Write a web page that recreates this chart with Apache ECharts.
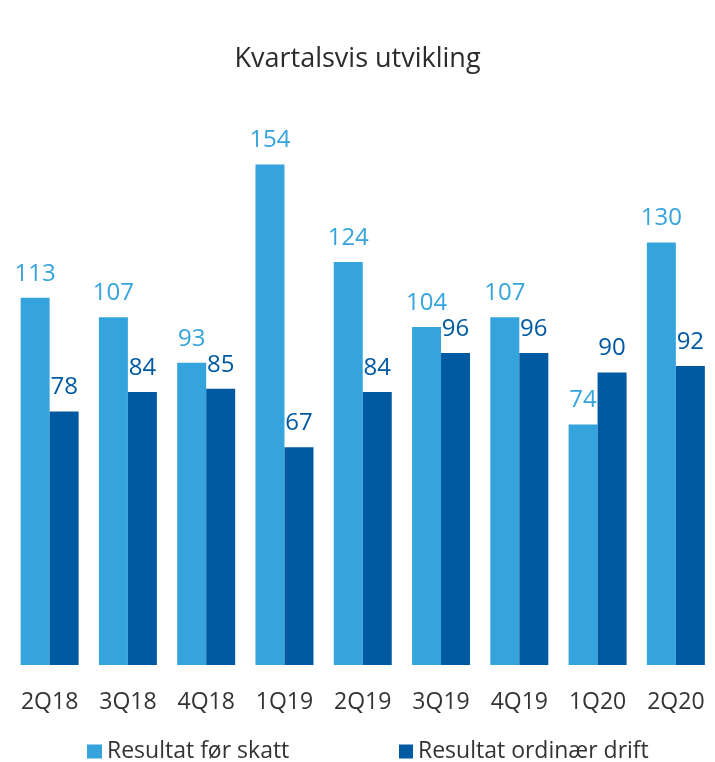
<!DOCTYPE html>
<html>
<head>
<meta charset="utf-8">
<script src="https://cdn.jsdelivr.net/npm/echarts@6/dist/echarts.min.js"></script>
<style>
  html, body { margin: 0; padding: 0; background: #fff; }
  #chart { width: 715px; height: 762px; }
</style>
</head>
<body>
<div id="chart"></div>
<script>
// data
var quarters = ['2Q18', '3Q18', '4Q18', '1Q19', '2Q19', '3Q19', '4Q19', '1Q20', '2Q20'];
var resultatForSkatt = [113, 107, 93, 154, 124, 104, 107, 74, 130];
var resultatOrdinaer = [78, 84, 85, 67, 84, 96, 96, 90, 92];
var seriesNames = ['Resultat før skatt', 'Resultat ordinær drift'];

var colors = ['#35a4dc', '#005aa2'];
var font = 'Open Sans';

var chart = echarts.init(document.getElementById('chart'));

var option = {
    animation: false,
    textStyle: { fontFamily: font },
    title: {
        text: 'Kvartalsvis utvikling',
        left: 'center',
        top: 41,
        textStyle: { fontFamily: font, fontSize: 27, fontWeight: 'normal', color: '#2b2b2b' }
    },
    legend: [{
        data: [seriesNames[0]],
        left: 87,
        top: 740,
        padding: 0,
        icon: 'rect',
        itemWidth: 15,
        itemHeight: 14,
        textStyle: { fontFamily: font, fontSize: 23, color: '#333' }
    }, {
        data: [seriesNames[1]],
        left: 399,
        top: 740,
        padding: 0,
        icon: 'rect',
        itemWidth: 14,
        itemHeight: 14,
        textStyle: { fontFamily: font, fontSize: 23, color: '#333' }
    }],
    grid: {
        left: 10.5,
        right: -6.5,
        top: 145,
        bottom: 97,
        containLabel: false
    },
    xAxis: {
        type: 'category',
        data: quarters,
        axisLine: { show: false },
        axisTick: { show: false },
        axisLabel: {
            margin: 26,
            fontFamily: font,
            fontSize: 23,
            color: '#333'
        }
    },
    yAxis: {
        type: 'value',
        min: 0,
        max: 160,
        show: false,
        splitLine: { show: false }
    },
    series: [{
        name: seriesNames[0],
        type: 'bar',
        data: resultatForSkatt,
        barWidth: 29,
        barGap: '0%',
        itemStyle: { color: colors[0] },
        label: {
            show: true,
            position: 'top',
            distance: 12,
            fontFamily: font,
            fontSize: 24,
            color: colors[0]
        }
    }, {
        name: seriesNames[1],
        type: 'bar',
        data: resultatOrdinaer,
        barWidth: 29,
        barGap: '0%',
        itemStyle: { color: colors[1] },
        label: {
            show: true,
            position: 'top',
            distance: 12,
            fontFamily: font,
            fontSize: 24,
            color: colors[1]
        }
    }]
};

chart.setOption(option);
</script>
</body>
</html>
